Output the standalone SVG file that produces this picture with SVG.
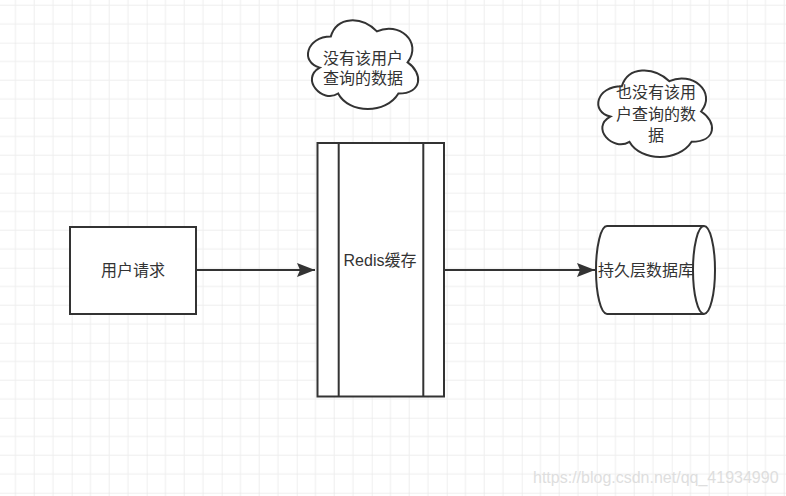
<svg xmlns="http://www.w3.org/2000/svg" width="786" height="496" viewBox="0 0 786 496">
  <style>
    .shape { fill: #ffffff; stroke: #333333; stroke-width: 2; }
    .line { fill: none; stroke: #333333; stroke-width: 2; }
    .lbl { font-family: "Liberation Sans", "Noto Sans CJK SC", sans-serif; font-size: 16px; fill: #333333; text-anchor: middle; dominant-baseline: central; }
    .wm { font-family: "Liberation Sans", Arial, sans-serif; font-size: 16px; fill: #dedede; }
  </style>
  <defs>
    <pattern id="grid" patternUnits="userSpaceOnUse" x="-3.3" y="-32.3" width="75" height="75">
      <path d="M18.75,0V75M37.5,0V75M56.25,0V75M0,18.75H75M0,37.5H75M0,56.25H75" fill="none" stroke="#eeeeee" stroke-width="1"/>
      <path d="M0,0V75M0,0H75" fill="none" stroke="#e2e2e2" stroke-width="1"/>
    </pattern>
    <marker id="arrow" markerUnits="userSpaceOnUse" markerWidth="20" markerHeight="16" refX="18" refY="7" orient="auto">
      <path d="M0,0 L18,7 L0,14 L3,7 Z" fill="#333333"/>
    </marker>
  </defs>

  <rect x="0" y="0" width="786" height="496" fill="#ffffff"/>
  <rect x="0" y="0" width="786" height="496" fill="url(#grid)"/>

  <g id="connectors">
    <path class="line" d="M196,270 H315" marker-end="url(#arrow)"/>
    <path class="line" d="M445,270 H595" marker-end="url(#arrow)"/>
  </g>

  <g id="node-user-request">
    <rect class="shape" x="70" y="227" width="126" height="87"/>
    <text class="lbl" x="133" y="270">用户请求</text>
  </g>

  <g id="node-redis">
    <rect class="shape" x="317.5" y="143" width="126.5" height="253.5"/>
    <path class="line" d="M338.7,143 V396.5 M423.3,143 V396.5"/>
    <text class="lbl" x="380" y="260">Redis缓存</text>
  </g>

  <g id="node-db">
    <path class="shape" d="M607,226 H704 A11,44 0 0 1 704,314 H607 A11,44 0 0 1 607,226 Z"/>
    <path class="line" d="M704,226 A11,44 0 0 0 704,314"/>
    <text class="lbl" x="646" y="270">持久层数据库</text>
  </g>

  <g id="cloud-1">
    <path class="shape" d="M330.75,36.6 C306.15,36.6 300,62.45 319.7,67.6 C300,79 322.1,103.9 338.1,93.5 C349.2,114.2 386.1,114.2 398.4,93.5 C423,93.5 423,72.8 407.6,62.45 C423,41.75 398.4,21.05 376.9,31.4 C361.5,15.9 336.9,15.9 330.75,36.6 Z"/>
    <text class="lbl" x="363" y="58">没有该用户</text>
    <text class="lbl" x="363" y="78">查询的数据</text>
  </g>

  <g id="cloud-2">
    <path class="shape" d="M621.75,86.25 C596.35,86.25 590,111.5 610.3,116.55 C590,127.7 612.9,151.9 629.4,141.8 C640.8,162 678.9,162 691.6,141.8 C717,141.8 717,121.6 701.1,111.5 C717,91.3 691.6,71.1 669.4,81.2 C653.5,66.05 628.1,66.05 621.75,86.25 Z"/>
    <text class="lbl" x="656" y="92">也没有该用</text>
    <text class="lbl" x="656" y="114">户查询的数</text>
    <text class="lbl" x="656" y="135">据</text>
  </g>

  <text class="wm" x="533" y="483">https://blog.csdn.net/qq_41934990</text>
</svg>
